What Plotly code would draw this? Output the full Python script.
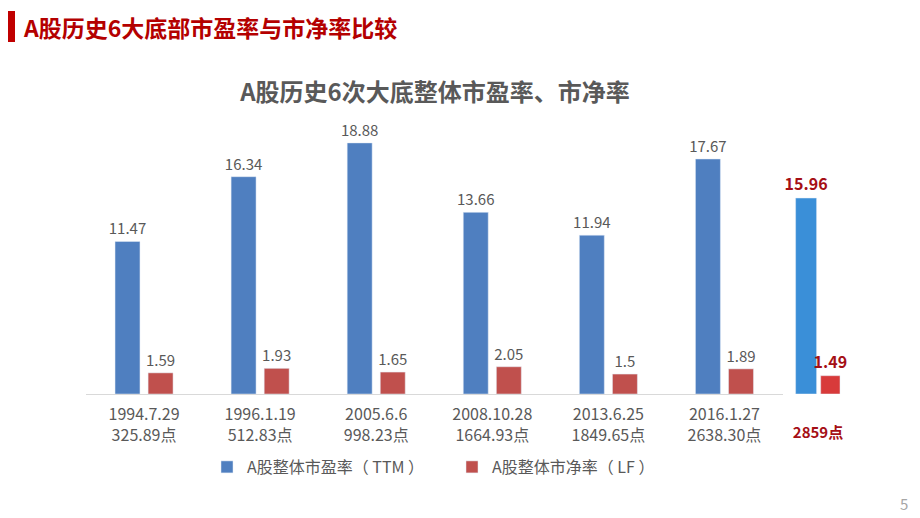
import plotly.graph_objects as go

dates = ["1994.7.29", "1996.1.19", "2005.6.6", "2008.10.28", "2013.6.25", "2016.1.27"]
points = ["325.89点", "512.83点", "998.23点", "1664.93点", "1849.65点", "2638.30点"]
pe = [11.47, 16.34, 18.88, 13.66, 11.94, 17.67]
pb = [1.59, 1.93, 1.65, 2.05, 1.5, 1.89]

now_label = "2859点"
now_pe = [15.96]
now_pb = [1.49]

series_names = ["A股整体市盈率（ TTM ）", "A股整体市净率（ LF ）"]
page_title = "A股历史6大底部市盈率与市净率比较"
chart_title = "A股历史6次大底整体市盈率、市净率"
page_no = "5"

FONT = "Noto Sans CJK SC, Noto Sans, sans-serif"
GRAY = "#595959"
DARKRED = "#A50F15"
BLUE = "#4F7FC0"
RED = "#C0504D"
BLUE2 = "#3A8FD8"
RED2 = "#D83A3A"

# page body has an 8px margin: figure is drawn in a 904x502 box offset by 8px
OFF = 8
W, H = 920 - 2 * OFF, 518 - 2 * OFF


def px(x):
    return (x - OFF) / W


def py(y):
    return (H - (y - OFF)) / H


cats = [f"{d}<br>{p}" for d, p in zip(dates, points)]

fig = go.Figure()
fig.add_bar(x=cats, y=pe, name=series_names[0], marker_color=BLUE,
            width=0.215, offset=-0.25,
            text=[f"{v:g}" for v in pe], textposition="outside", constraintext="none",
            textfont=dict(color=GRAY, size=15, family=FONT), cliponaxis=False)
fig.add_bar(x=cats, y=pb, name=series_names[1], marker_color=RED,
            width=0.215, offset=0.035,
            text=[f"{v:g}" for v in pb], textposition="outside", constraintext="none",
            textfont=dict(color=GRAY, size=15, family=FONT), cliponaxis=False)

now_cat = ["\u00a0<br><b>" + now_label + "</b>"]
fig.add_bar(x=now_cat, y=now_pe, xaxis="x2", yaxis="y2", showlegend=False,
            marker_color=BLUE2, width=0.375, offset=-0.40,
            text=[f"<b>{v:g}</b>" for v in now_pe], textposition="outside", constraintext="none",
            textfont=dict(color=DARKRED, size=16, family=FONT), cliponaxis=False)
fig.add_bar(x=now_cat, y=now_pb, xaxis="x2", yaxis="y2", showlegend=False,
            marker_color=RED2, width=0.345, offset=0.048,
            text=[f"<b>{v:g}</b>" for v in now_pb], textposition="outside", constraintext="none",
            textfont=dict(color=DARKRED, size=16, family=FONT), cliponaxis=False)

ydom = [py(394), py(394 - 266)]

fig.update_layout(
    width=W, height=H,
    margin=dict(l=0, r=0, t=0, b=0),
    paper_bgcolor="white", plot_bgcolor="white",
    barmode="group",
    font=dict(family=FONT, color=GRAY),
    showlegend=True,
    legend=dict(orientation="h", x=px(207), xanchor="left", y=py(467), yanchor="middle",
                font=dict(size=16, color=GRAY, family=FONT),
                entrywidth=200, entrywidthmode="pixels",
                traceorder="normal"),
    xaxis=dict(domain=[px(86), px(782.5)], range=[-0.5, 5.5], type="category",
               showline=True, linecolor="#D9D9D9", linewidth=1, ticks="",
               ticklabelstandoff=6,
               showgrid=False, zeroline=False,
               tickfont=dict(size=16, color=GRAY, family=FONT)),
    yaxis=dict(domain=ydom, range=[0, 20], visible=False, showgrid=False, zeroline=False),
    xaxis2=dict(domain=[px(790), px(846)], range=[-0.5, 0.5], type="category",
                anchor="y2", showline=False, ticks="", showgrid=False, zeroline=False,
                ticklabelstandoff=8,
                tickfont=dict(size=15, color=DARKRED, family=FONT)),
    yaxis2=dict(domain=ydom, range=[0, 20 * 13.3 / 12.28], visible=False,
                anchor="x2", overlaying="y"),
    title=dict(text=f"<b>{chart_title}</b>", x=px(435), xanchor="center",
               y=py(93), yanchor="middle",
               font=dict(size=24, color=GRAY, family=FONT)),
    shapes=[dict(type="rect", xref="paper", yref="paper",
                 x0=0, x1=7 / W, y0=py(42), y1=py(11),
                 fillcolor="#C00000", line=dict(width=0))],
    annotations=[
        dict(text=f"<b>{page_title}</b>", xref="paper", yref="paper",
             x=px(21), y=py(27), xanchor="left", yanchor="middle",
             showarrow=False, font=dict(size=23, color="#B40000", family=FONT)),
        dict(text=page_no, xref="paper", yref="paper", x=px(904), y=py(503),
             xanchor="center", yanchor="middle", showarrow=False,
             font=dict(size=15, color="#A6A6A6", family=FONT)),
    ],
)

fig.write_html("out.html")
